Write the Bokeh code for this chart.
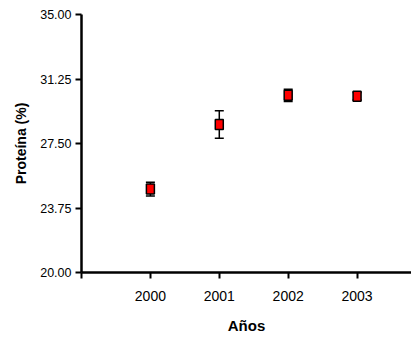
from bokeh.plotting import figure
from bokeh.models import ColumnDataSource, Whisker, TeeHead, FixedTicker, Range1d
from bokeh.embed import file_html
from bokeh.resources import INLINE

years = [2000, 2001, 2002, 2003]
protein = [24.85, 28.6, 30.3, 30.25]
sem = [0.4, 0.8, 0.36, 0.22]
y_ticks = [20.0, 23.75, 27.5, 31.25, 35.0]
x_ticks = [1999, 2000, 2001, 2002, 2003]

src = ColumnDataSource(data=dict(
    x=years, y=protein,
    upper=[v + e for v, e in zip(protein, sem)],
    lower=[v - e for v, e in zip(protein, sem)],
))

FONT = "Liberation Sans"

p = figure(width=411, height=336, output_backend="svg", toolbar_location=None,
           x_range=Range1d(1999.0, 2003.79), y_range=Range1d(20, 35),
           min_border_left=81, min_border_top=14, min_border_bottom=61, min_border_right=0)
p.outline_line_color = None
p.xgrid.grid_line_color = None
p.ygrid.grid_line_color = None
p.background_fill_color = "white"

w = Whisker(source=src, base="x", upper="upper", lower="lower",
            line_color="black", line_width=1.5, level="underlay",
            upper_head=TeeHead(size=9, line_width=1.5, line_color="black"),
            lower_head=TeeHead(size=9, line_width=1.5, line_color="black"))
p.add_layout(w)

p.rect(x="x", y="y", width=8, height=10, width_units="screen", height_units="screen",
       source=src, fill_color="#FF0000", line_color="black", line_width=1.5)

for ax in (p.xaxis[0], p.yaxis[0]):
    ax.axis_line_width = 2.5
    ax.axis_line_color = "black"
    ax.major_tick_line_width = 2
    ax.major_tick_line_color = "black"
    ax.major_tick_in = 0
    ax.major_tick_out = 6
    ax.minor_tick_line_color = None
    ax.major_label_text_font = FONT
    ax.axis_label_text_font = FONT
    ax.axis_label_text_font_style = "bold"
    ax.axis_label_text_color = "black"
    ax.major_label_text_color = "black"

p.yaxis.ticker = FixedTicker(ticks=y_ticks)
p.yaxis.major_label_overrides = {t: f"{t:.2f}" for t in y_ticks}
p.yaxis.major_label_text_font_size = "12.5px"
p.yaxis.major_label_standoff = 4
p.yaxis.axis_label = "Proteína (%)"
p.yaxis.axis_label_text_font_size = "14px"
p.yaxis.axis_label_standoff = 8

p.xaxis.ticker = FixedTicker(ticks=x_ticks)
p.xaxis.major_label_overrides = {1999: ""}
p.xaxis.major_label_text_font_size = "14px"
p.xaxis.major_label_standoff = 12
p.xaxis.axis_label = "Años"
p.xaxis.axis_label_text_font_size = "15px"
p.xaxis.axis_label_standoff = 13

open("out.html", "w").write(file_html(p, INLINE))
